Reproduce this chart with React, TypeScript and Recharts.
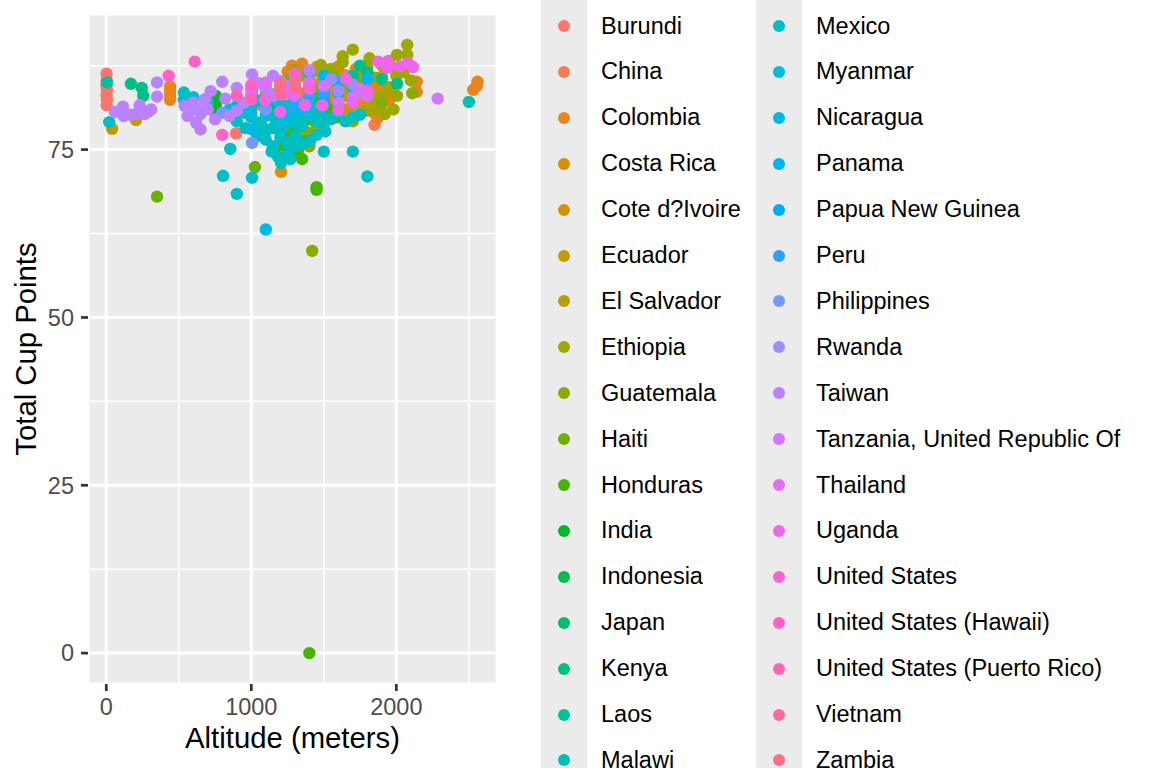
import { ScatterChart, Scatter, XAxis, YAxis, CartesianGrid, ReferenceLine } from 'recharts';

type Pt = [number, number]; // [altitude, total cup points]

const countries = [
  'Burundi', 'China', 'Colombia', 'Costa Rica', 'Cote d?Ivoire', 'Ecuador', 'El Salvador',
  'Ethiopia', 'Guatemala', 'Haiti', 'Honduras', 'India', 'Indonesia', 'Japan', 'Kenya', 'Laos',
  'Malawi', 'Mexico', 'Myanmar', 'Nicaragua', 'Panama', 'Papua New Guinea', 'Peru',
  'Philippines', 'Rwanda', 'Taiwan', 'Tanzania, United Republic Of', 'Thailand', 'Uganda',
  'United States', 'United States (Hawaii)', 'United States (Puerto Rico)', 'Vietnam', 'Zambia',
];

const burundi: Pt[] = [[2, 86.3], [3, 85.3], [1, 84.6], [4, 83.9], [2, 83.1], [5, 82.4], [3, 81.6], [1820, 84.2], [1700, 85.0], [1760, 83.4], [1650, 86.1], [1560, 84.8], [895, 77.4], [1400, 85.6], [1280, 84.1], [1150, 82.9], [1050, 81.7]];
const china: Pt[] = [[1850, 78.7], [1320, 83.6], [1460, 84.8], [1600, 85.5], [1500, 86.9], [1760, 82.3], [1900, 85.9], [1200, 82.1], [1100, 84.4], [1000, 82.9]];
const colombia: Pt[] = [[440, 82.4], [440, 83.1], [440, 83.8], [440, 84.4], [2140, 85.1], [2140, 83.6], [2560, 85.1], [2530, 83.9], [2555, 84.5], [1900, 84.5], [1800, 86.2], [1700, 85.0], [1650, 83.2], [1750, 81.6], [1850, 80.4], [1600, 82.0], [1550, 84.3], [1950, 82.3], [1500, 83.0], [1450, 81.8], [1400, 84.6], [1350, 83.3], [1870, 79.7], [1700, 80.1], [1300, 85.5], [1250, 86.6], [1800, 82.7], [1950, 83.8], [1600, 86.8], [1500, 85.7], [1400, 86.2], [1720, 87.0], [1650, 79.3], [1820, 84.9], [1200, 85.0], [1900, 81.8], [1280, 87.5], [1350, 87.8], [1450, 87.3], [1550, 82.6], [1750, 83.9]];
const costaRica: Pt[] = [[1205, 71.7], [1300, 82.5], [1500, 84.0], [1400, 83.0], [1600, 84.8], [1700, 83.5], [1800, 81.4], [1550, 85.6], [1450, 80.2], [1650, 81.0], [1900, 83.2], [1250, 80.5], [1350, 86.0], [1750, 86.3], [1150, 83.2], [1850, 82.1], [1600, 87.4], [1850, 84.0]];
const coteDIvoire: Pt[] = [[1200, 79.3]];
const ecuador: Pt[] = [[40, 78.1], [205, 79.4], [210, 80.3], [1400, 85.1], [1650, 83.0]];
const elSalvador: Pt[] = [[1400, 84.3], [1500, 85.2], [1600, 86.0], [1200, 83.8], [1300, 82.6], [1700, 84.0], [1100, 82.7], [1450, 86.7]];
const ethiopia: Pt[] = [[2075, 90.6], [2075, 89.1], [2005, 89.1], [1700, 89.9], [1630, 88.9], [1630, 88.0], [1815, 88.6], [2005, 83.0], [1900, 87.6], [1950, 88.2], [2000, 87.0], [1800, 87.2], [2050, 86.5], [1750, 86.0], [2100, 85.3], [1850, 85.7], [1950, 84.3], [2000, 86.0], [1875, 80.9], [1800, 80.8], [1700, 79.2], [1600, 81.5], [1500, 80.4], [1650, 84.5], [1550, 87.0], [1900, 83.0], [1920, 80.3], [1980, 81.0], [1850, 82.6], [1380, 86.4], [1480, 87.6]];
const guatemala: Pt[] = [[1420, 59.9], [1380, 77.6], [1350, 76.4], [1400, 75.5], [2110, 83.4], [1300, 81.0], [1500, 82.2], [1600, 80.7], [1700, 81.8], [1800, 83.2], [1900, 82.0], [1250, 79.0], [1450, 78.3], [1550, 79.5], [1350, 80.0], [1200, 84.2], [1650, 85.2], [1750, 84.6], [1560, 86.2], [1300, 86.8], [1450, 84.0], [1100, 83.5], [1250, 85.4]];
const haiti: Pt[] = [[350, 68.0], [1025, 72.4], [1300, 77.0]];
const honduras: Pt[] = [[1400, 0], [1450, 69.4], [1450, 69.0], [1350, 73.6], [1380, 76.3], [1300, 78.0], [1400, 79.5], [1500, 80.2], [1250, 77.0], [1350, 81.3], [1450, 82.5], [1550, 81.0], [1200, 75.6], [1320, 74.8], [1600, 79.8], [1280, 79.9]];
const india: Pt[] = [[755, 83.0], [755, 82.3], [755, 81.6], [755, 80.9], [755, 80.3]];
const indonesia: Pt[] = [[1005, 83.9], [1005, 83.2], [1005, 82.5], [1005, 81.8], [1300, 82.5], [1400, 84.0], [1150, 81.0]];
const japan: Pt[] = [[1500, 83.0]];
const kenya: Pt[] = [[170, 84.8], [245, 84.2], [255, 83.0], [2005, 84.8], [1700, 86.0], [1600, 85.0], [1800, 86.5], [1750, 87.5], [1900, 85.5]];
const laos: Pt[] = [[5, 85.0], [1200, 80.5], [1300, 81.8]];
const malawi: Pt[] = [[2500, 82.1], [290, 80.7], [1100, 81.2], [1150, 83.0]];
const mexico: Pt[] = [[20, 79.1], [535, 82.4], [535, 83.5], [855, 75.1], [805, 71.1], [900, 68.4], [1005, 70.8], [1800, 71.0], [1500, 74.7], [1700, 74.7], [1100, 76.5], [1140, 74.7], [1185, 73.9], [1245, 74.2], [1265, 75.0], [1510, 77.7], [1405, 76.3], [1205, 73.0], [1270, 73.6], [1050, 79.0], [1150, 78.2], [1200, 79.5], [1250, 80.3], [1300, 79.0], [1350, 78.5], [1400, 80.0], [1450, 79.3], [1500, 78.8], [1550, 79.6], [1600, 80.5], [1100, 80.8], [1000, 79.8], [950, 80.5], [900, 79.2], [850, 81.0], [700, 82.0], [600, 82.8], [1200, 77.5], [1300, 77.0], [1250, 76.0], [1150, 75.5], [1350, 75.8], [1450, 77.2], [1650, 79.2], [1700, 79.8], [1750, 80.2], [1250, 81.5], [1400, 82.0], [1100, 77.8], [1200, 76.8], [1300, 75.5], [1080, 78.3], [1170, 79.0], [1230, 78.6], [1330, 79.7], [1480, 80.6], [1040, 77.0], [960, 78.2], [880, 80.2], [1050, 82.3], [1150, 80.0]];
const myanmar: Pt[] = [[1200, 79.0], [1100, 80.0], [1300, 80.5], [1000, 81.8]];
const nicaragua: Pt[] = [[1100, 63.1], [1005, 78.0], [1200, 81.5], [1300, 82.3], [1250, 79.8], [1400, 81.2], [1500, 82.8], [1000, 80.5], [900, 81.5], [1150, 82.6], [1350, 80.6]];
const panama: Pt[] = [[1600, 85.0], [1500, 86.0], [1700, 84.2], [1400, 86.5], [1300, 85.8], [1800, 85.5]];
const papuaNewGuinea: Pt[] = [[1600, 83.5], [1500, 82.0]];
const peru: Pt[] = [[1500, 83.5], [1400, 82.8], [1300, 81.6], [1700, 82.4]];
const philippines: Pt[] = [[1005, 76.0], [800, 80.5], [1100, 81.0], [1300, 84.8]];
const rwanda: Pt[] = [[1600, 83.8], [1700, 84.7], [1550, 85.5]];
const taiwan: Pt[] = [[350, 85.0], [350, 82.9], [60, 80.6], [115, 81.4], [165, 80.2], [205, 80.3], [265, 80.3], [310, 81.0], [540, 81.5], [580, 80.8], [600, 82.0], [620, 81.2], [650, 78.0], [650, 80.3], [700, 81.0], [680, 82.5], [800, 85.1], [1005, 86.2], [750, 79.5], [850, 80.0], [900, 80.8], [950, 82.0], [1000, 83.4], [1100, 84.0], [1200, 85.2], [1300, 86.0], [1250, 84.5], [1150, 83.0], [720, 83.7], [560, 80.0], [620, 79.0], [1400, 86.8], [120, 80.0], [230, 81.6], [820, 82.6], [900, 84.2], [1050, 84.9], [1150, 86.0]];
const tanzania: Pt[] = [[2285, 82.6], [1800, 83.0], [1750, 84.0], [1600, 82.0], [1500, 84.5], [1700, 82.8]];
const thailand: Pt[] = [[1300, 83.0], [1200, 84.5], [1100, 85.0], [1400, 85.0], [1000, 84.0]];
const uganda: Pt[] = [[1875, 88.1], [1940, 88.1], [2025, 87.4], [2080, 87.9], [2115, 87.3], [1940, 87.2], [1200, 80.6], [1230, 83.3], [1370, 81.6], [1490, 81.6], [1600, 80.9], [1700, 82.0], [1800, 83.8], [1650, 85.6]];
const unitedStates: Pt[] = [[1095, 82.4], [1400, 84.0]];
const usHawaii: Pt[] = [[430, 86.0], [610, 88.1], [800, 77.2], [1000, 84.6], [1300, 86.4]];
const usPuertoRico: Pt[] = [[1000, 82.5], [900, 83.0]];
const vietnam: Pt[] = [[1200, 83.2], [1300, 84.2]];
const zambia: Pt[] = [[1300, 85.0], [1200, 84.8]];

const seriesPoints: Pt[][] = [
  burundi, china, colombia, costaRica, coteDIvoire, ecuador, elSalvador, ethiopia, guatemala,
  haiti, honduras, india, indonesia, japan, kenya, laos, malawi, mexico, myanmar, nicaragua,
  panama, papuaNewGuinea, peru, philippines, rwanda, taiwan, tanzania, thailand, uganda,
  unitedStates, usHawaii, usPuertoRico, vietnam, zambia,
];

const xTicks = [0, 1000, 2000];
const xMinor = [500, 1500, 2500];
const yTicks = [0, 25, 50, 75];
const yMinor = [12.5, 37.5, 62.5, 87.5];

// ggplot2 default hue palette: hcl(h, c = 100, l = 65)
function hueColor(i: number, n: number) {
  const h = ((15 + (360 * i) / n) * Math.PI) / 180;
  const L = 65, C = 100;
  const U = C * Math.cos(h), V = C * Math.sin(h);
  const Xn = 95.047, Yn = 100, Zn = 108.883;
  const den = Xn + 15 * Yn + 3 * Zn;
  const un = (4 * Xn) / den, vn = (9 * Yn) / den;
  const Y = Yn * Math.pow((L + 16) / 116, 3);
  const u = U / (13 * L) + un, v = V / (13 * L) + vn;
  const X = (Y * 9 * u) / (4 * v);
  const Z = (Y * (12 - 3 * u - 20 * v)) / (4 * v);
  const x = X / 100, y = Y / 100, z = Z / 100;
  const lin = [
    3.240479 * x - 1.53715 * y - 0.498535 * z,
    -0.969256 * x + 1.875992 * y + 0.041556 * z,
    0.055648 * x - 0.204043 * y + 1.057311 * z,
  ];
  return '#' + lin.map((c) => {
    const g = c <= 0.0031308 ? 12.92 * c : 1.055 * Math.pow(c, 1 / 2.4) - 0.055;
    const k = Math.round(Math.min(1, Math.max(0, g)) * 255);
    return k.toString(16).padStart(2, '0');
  }).join('');
}

const colors = countries.map((_, i) => hueColor(i, countries.length));
const FONT = '"Liberation Sans", Arial, Helvetica, sans-serif';

function CountryLegend() {
  const perCol = Math.ceil(countries.length / 2);
  const cols = [countries.slice(0, perCol), countries.slice(perCol)];
  const colX = [541, 756];
  return (
    <>
      {cols.map((names, c) => (
        <div key={c}>
          <div style={{ position: 'absolute', left: colX[c], top: 0, width: 46, height: 768, background: '#EBEBEB' }} />
          {names.map((name, r) => {
            const idx = c * perCol + r;
            return (
              <div key={name} style={{ position: 'absolute', left: colX[c], top: 3 + r * 45.9, height: 46, display: 'flex', alignItems: 'center' }}>
                <div style={{ width: 46, display: 'flex', justifyContent: 'center' }}>
                  <div style={{ width: 12, height: 12, borderRadius: 6, background: colors[idx] }} />
                </div>
                <span style={{ marginLeft: 14, fontSize: 23.5, color: '#000', whiteSpace: 'nowrap' }}>{name}</span>
              </div>
            );
          })}
        </div>
      ))}
    </>
  );
}

export default function App() {
  return (
    <div style={{ position: 'fixed', left: 0, top: 0, width: 1152, height: 768, overflow: 'hidden', background: '#fff', fontFamily: FONT }}>
      <ScatterChart width={1152} height={768} margin={{ top: 14, right: 655, bottom: 0, left: 0 }}>
        <CartesianGrid fill="#EBEBEB" fillOpacity={1} stroke="#FFFFFF" strokeWidth={3} />
        {xMinor.map((v) => <ReferenceLine key={'x' + v} x={v} stroke="#FFFFFF" strokeWidth={1.5} />)}
        {yMinor.map((v) => <ReferenceLine key={'y' + v} y={v} stroke="#FFFFFF" strokeWidth={1.5} />)}
        <XAxis
          type="number" dataKey="x" domain={[-126, 2694]} ticks={xTicks} allowDataOverflow
          height={84} axisLine={false} tickSize={7} tickMargin={7}
          tickLine={{ stroke: '#333333', strokeWidth: 2.7 }}
          tick={{ fill: '#4D4D4D', fontSize: 23.5 }}
          label={{ value: 'Altitude (meters)', position: 'insideBottom', offset: 20, fill: '#000', fontSize: 29.3 }}
        />
        <YAxis
          type="number" dataKey="y" domain={[-4.6, 95.2]} ticks={yTicks} allowDataOverflow
          width={88} axisLine={false} tickSize={7} tickMargin={7}
          tickLine={{ stroke: '#333333', strokeWidth: 2.7 }}
          tick={{ fill: '#4D4D4D', fontSize: 23.5 }}
          label={{ value: 'Total Cup Points', position: 'insideLeft', angle: -90, offset: 26, fill: '#000', fontSize: 29.3, style: { textAnchor: 'middle' } }}
        />
        {countries.map((name, i) => (
          <Scatter
            key={name}
            name={name}
            data={seriesPoints[i].map(([x, y]) => ({ x, y }))}
            fill={colors[i]}
            isAnimationActive={false}
            shape={(p: any) => <circle cx={p.cx} cy={p.cy} r={6.2} fill={colors[i]} />}
          />
        ))}
      </ScatterChart>
      <CountryLegend />
    </div>
  );
}
